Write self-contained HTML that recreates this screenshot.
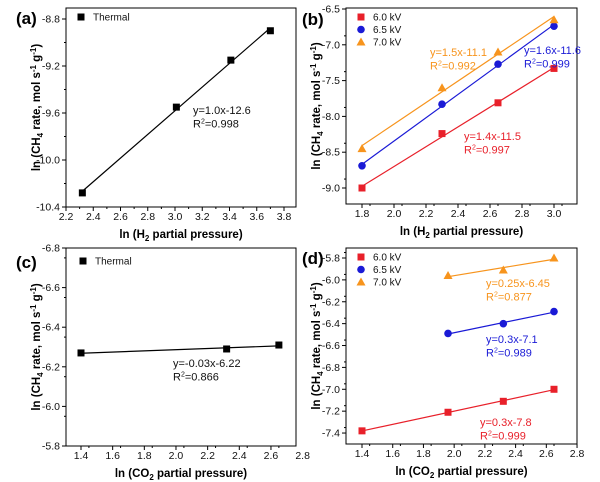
<!DOCTYPE html>
<html><head><meta charset="utf-8"><style>
body{margin:0;background:#fff;}
svg{display:block;font-family:"Liberation Sans",Arial,sans-serif;}
</style></head><body>
<svg id="fig" width="600" height="482" viewBox="0 0 600 482"></svg>
<script>
// ---- data ----
const aX=[2.32,3.01,3.41,3.7];
const aY=[-10.28,-9.55,-9.15,-8.9];
const bX=[1.8,2.3,2.65,3.0];
const b60=[-9.0,-8.24,-7.81,-7.33];
const b65=[-8.69,-7.83,-7.27,-6.74];
const b70=[-8.45,-7.6,-7.1,-6.65];
const cX=[1.4,2.32,2.65];
const cY=[-6.27,-6.29,-6.31];
const dX60=[1.4,1.96,2.32,2.65];
const d60=[-7.38,-7.21,-7.11,-7.0];
const dX=[1.96,2.32,2.65];
const d65=[-6.49,-6.4,-6.29];
const d70=[-5.96,-5.91,-5.8];
const aXT=["2.2","2.4","2.6","2.8","3.0","3.2","3.4","3.6","3.8"];
const aYT=["-8.8","-9.2","-9.6","-10.0","-10.4"];
const bXT=["1.8","2.0","2.2","2.4","2.6","2.8","3.0"];
const bYT=["-6.5","-7.0","-7.5","-8.0","-8.5","-9.0"];
const cXT=["1.4","1.6","1.8","2.0","2.2","2.4","2.6","2.8"];
const cYT=["-6.8","-6.6","-6.4","-6.2","-6.0","-5.8"];
const dXT=["1.4","1.6","1.8","2.0","2.2","2.4","2.6","2.8"];
const dYT=["-5.8","-6.0","-6.2","-6.4","-6.6","-6.8","-7.0","-7.2","-7.4"];

const NS="http://www.w3.org/2000/svg";
const svg=document.getElementById('fig');
const RED="#e8202a",BLUE="#1a1ad6",ORG="#f7941d";
function el(t,a,p){const e=document.createElementNS(NS,t);for(const k in a)e.setAttribute(k,a[k]);(p||svg).appendChild(e);return e;}
function fit(xs,ys){const n=xs.length;let sx=0,sy=0,sxx=0,sxy=0;for(let i=0;i<n;i++){sx+=xs[i];sy+=ys[i];sxx+=xs[i]*xs[i];sxy+=xs[i]*ys[i];}const m=(n*sxy-sx*sy)/(n*sxx-sx*sx);return [m,(sy-m*sx)/n];}

function panel(o){
  const g=el('g',{});
  
  
  const sx=v=>o.x0+(v-o.xa)*o.kx;
  const sy=v=>o.y0+(v-o.ya)*o.ky;
  const box=el('rect',{x:o.L,y:o.T,width:o.R-o.L,height:o.B-o.T,fill:'none',stroke:'#000','stroke-width':1},g);
  
  o.xt.forEach((t,i)=>{const v=parseFloat(t);const x=sx(v);
    if(x>=o.L-1&&x<=o.R+1) el('line',{x1:x,x2:x,y1:o.B,y2:o.B+4,stroke:'#000'},g);
    const xm=sx(v+o.xs/2); if(xm>o.L&&xm<o.R) el('line',{x1:xm,x2:xm,y1:o.B,y2:o.B+2,stroke:'#000'},g);
    const tx=el('text',{x:x,y:o.B+13,'font-size':10.5,'text-anchor':'middle',fill:'#111'},g);tx.textContent=t;
    });
  o.yt.forEach((t,i)=>{const v=parseFloat(t);const y=sy(v);
    el('line',{x1:o.L-4,x2:o.L,y1:y,y2:y,stroke:'#000'},g);
    const ym=sy(v+o.ys/2); if(ym>o.T&&ym<o.B) el('line',{x1:o.L-2,x2:o.L,y1:ym,y2:ym,stroke:'#000'},g);
    const tx=el('text',{x:o.L-6,y:y+3.5,'font-size':10.5,'text-anchor':'end',fill:'#111'},g);tx.textContent=t;
    });
  const pl=el('text',{x:o.plx,y:o.ply,'font-size':17,'font-weight':'bold'},g);pl.textContent=o.label;
  
  const xt=el('text',{x:(o.L+o.R)/2,y:o.B+31,'font-size':11.5,'font-weight':'bold','text-anchor':'middle'},g);
  xt.innerHTML='ln ('+o.gas+'<tspan font-size="8" dy="3">'+o.sub+'</tspan><tspan dy="-3"> partial pressure)</tspan>';
  
  const cy=(o.T+o.B)/2;
  const yt=el('text',{x:0,y:0,'font-size':11.5,'font-weight':'bold','text-anchor':'middle',transform:`translate(${o.ytx},${cy}) rotate(-90)`},g);
  yt.innerHTML='ln (CH<tspan font-size="8" dy="3">4</tspan><tspan dy="-3"> rate, mol s</tspan><tspan font-size="8" dy="-4">-1</tspan><tspan dy="4"> g</tspan><tspan font-size="8" dy="-4">-1</tspan><tspan dy="4">)</tspan>';
  
  o.series.forEach(s=>{
    const [m,b]=fit(s.x,s.y);
    const x1=s.x[0],x2=s.x[s.x.length-1];
    const ln=el('line',{x1:sx(x1),y1:sy(m*x1+b),x2:sx(x2),y2:sy(m*x2+b),stroke:s.c,'stroke-width':1.2},g);
    
    s.x.forEach((xv,i)=>{mark(g,s.m,sx(xv),sy(s.y[i]),s.c);});
  });
  o.legend.forEach((l,i)=>{mark(g,l.m,l.x,l.y+i*12.5,l.c);
    const t=el('text',{x:l.x+12,y:l.y+i*12.5+3.5,'font-size':10,fill:'#111'},g);t.textContent=l.t;
    });
  o.ann.forEach(a=>{
    const t1=el('text',{x:a.x,y:a.y,'font-size':11,fill:a.c},g);t1.textContent=a.eq;
    
    const t2=el('text',{x:a.x,y:a.y+13.5,'font-size':11,fill:a.c},g);
    t2.innerHTML='R<tspan font-size="7" dy="-4">2</tspan><tspan dy="4">='+a.r+'</tspan>';
    });
}
function mark(g,m,x,y,c){let e;
  if(m==='s') e=el('rect',{x:x-3.5,y:y-3.5,width:7,height:7,fill:c},g);
  else if(m==='c') e=el('circle',{cx:x,cy:y,r:3.8,fill:c},g);
  else e=el('polygon',{points:`${x},${y-4.5} ${x+4.5},${y+3.5} ${x-4.5},${y+3.5}`,fill:c},g);
  }

panel({name:'panel-a',label:'(a)',plx:16,ply:24,L:66,R:296,T:8,B:207,x0:66,xa:2.2,kx:136.25,y0:19,ya:-8.8,ky:-117.5,
 xt:aXT,xs:0.2,yt:aYT,ys:0.4,gas:'H',sub:'2',ytx:40,
 series:[{x:aX,y:aY,c:'#000',m:'s'}],legend:[{x:81,y:17,c:'#000',m:'s',t:'Thermal'}],
 ann:[{x:193,y:114,c:'#111',eq:'y=1.0x-12.6',r:'0.998'}]});
panel({name:'panel-b',label:'(b)',plx:302,ply:25,L:346,R:577,T:8,B:204,x0:362,xa:1.8,kx:160,y0:9,ya:-6.5,ky:-71.6,
 xt:bXT,xs:0.1,yt:bYT,ys:0.25,gas:'H',sub:'2',ytx:320,
 series:[{x:bX,y:b60,c:RED,m:'s'},{x:bX,y:b65,c:BLUE,m:'c'},{x:bX,y:b70,c:ORG,m:'t'}],
 legend:[{x:361,y:17,c:RED,m:'s',t:'6.0 kV'},{x:361,y:17,c:BLUE,m:'c',t:'6.5 kV'},{x:361,y:17,c:ORG,m:'t',t:'7.0 kV'}],
 ann:[{x:430,y:56,c:ORG,eq:'y=1.5x-11.1',r:'0.992'},{x:524,y:54,c:BLUE,eq:'y=1.6x-11.6',r:'0.999'},{x:464,y:140,c:RED,eq:'y=1.4x-11.5',r:'0.997'}]});
panel({name:'panel-c',label:'(c)',plx:16,ply:268,L:66,R:296,T:248,B:446,x0:81,xa:1.4,kx:158.3,y0:248,ya:-6.8,ky:198,
 xt:cXT,xs:0.1,yt:cYT,ys:0.1,gas:'CO',sub:'2',ytx:40,
 series:[{x:cX,y:cY,c:'#000',m:'s'}],legend:[{x:83,y:261,c:'#000',m:'s',t:'Thermal'}],
 ann:[{x:173,y:367,c:'#111',eq:'y=-0.03x-6.22',r:'0.866'}]});
panel({name:'panel-d',label:'(d)',plx:302,ply:264,L:346,R:577,T:248,B:444,x0:362,xa:1.4,kx:153.6,y0:258,ya:-5.8,ky:-109.4,
 xt:dXT,xs:0.1,yt:dYT,ys:0.1,gas:'CO',sub:'2',ytx:320,
 series:[{x:dX60,y:d60,c:RED,m:'s'},{x:dX,y:d65,c:BLUE,m:'c'},{x:dX,y:d70,c:ORG,m:'t'}],
 legend:[{x:361,y:257,c:RED,m:'s',t:'6.0 kV'},{x:361,y:257,c:BLUE,m:'c',t:'6.5 kV'},{x:361,y:257,c:ORG,m:'t',t:'7.0 kV'}],
 ann:[{x:486,y:287,c:ORG,eq:'y=0.25x-6.45',r:'0.877'},{x:486,y:343,c:BLUE,eq:'y=0.3x-7.1',r:'0.989'},{x:480,y:426,c:RED,eq:'y=0.3x-7.8',r:'0.999'}]});
</script>
</body></html>
